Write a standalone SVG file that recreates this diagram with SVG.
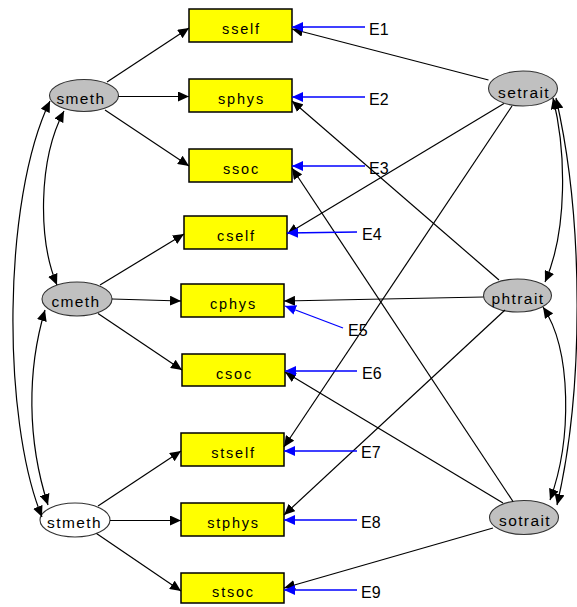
<svg xmlns="http://www.w3.org/2000/svg" width="577" height="607" viewBox="0 0 577 607">
<defs>
<marker id="ah" markerUnits="userSpaceOnUse" markerWidth="12" markerHeight="10" refX="11" refY="5" orient="auto-start-reverse"><path d="M0,0 L11,5 L0,10 z" fill="#000"/></marker>
<marker id="ahb" markerUnits="userSpaceOnUse" markerWidth="12" markerHeight="10" refX="11" refY="5" orient="auto"><path d="M0,0 L11,5 L0,10 z" fill="#0000FF"/></marker>
<style>
.box{fill:#FFFF00;stroke:#000;stroke-width:1.5}
.lat{fill:#C0C0C0;stroke:#333;stroke-width:1.1}
.latw{fill:#FFFFFF;stroke:#333;stroke-width:1.1}
.bl{font-family:"Liberation Sans",Arial,sans-serif;font-size:14.5px;letter-spacing:1.8px;text-anchor:middle;fill:#000}
.ll{font-family:"Liberation Sans",Arial,sans-serif;font-size:15.5px;letter-spacing:1.4px;text-anchor:middle;fill:#000}
.el{font-family:"Liberation Sans",Arial,sans-serif;font-size:16px;fill:#000}
.c{fill:none;stroke:#000;stroke-width:1.2;marker-end:url(#ah)}
.d{fill:none;stroke:#000;stroke-width:1.2;marker-start:url(#ah);marker-end:url(#ah)}
.e{fill:none;stroke:#0000FF;stroke-width:1.3;marker-end:url(#ahb)}
</style>
</defs>
<g id="sself"><rect class="box" x="189" y="9" width="103" height="33"/><text class="bl" x="241.5" y="34">sself</text></g>
<g id="sphys"><rect class="box" x="189" y="79" width="103" height="33"/><text class="bl" x="241.5" y="104">sphys</text></g>
<g id="ssoc"><rect class="box" x="189" y="149" width="103" height="33"/><text class="bl" x="241.5" y="174">ssoc</text></g>
<g id="cself"><rect class="box" x="184" y="216" width="103" height="33"/><text class="bl" x="236.5" y="241">cself</text></g>
<g id="cphys"><rect class="box" x="181" y="284" width="103" height="33"/><text class="bl" x="233.5" y="309">cphys</text></g>
<g id="csoc"><rect class="box" x="182" y="354" width="103" height="32"/><text class="bl" x="234.5" y="379">csoc</text></g>
<g id="stself"><rect class="box" x="181" y="433" width="103" height="33"/><text class="bl" x="233.5" y="458">stself</text></g>
<g id="stphys"><rect class="box" x="181" y="503" width="103" height="33"/><text class="bl" x="233.5" y="528">stphys</text></g>
<g id="stsoc"><rect class="box" x="181" y="573" width="103" height="30"/><text class="bl" x="233.5" y="597">stsoc</text></g>
<g id="smeth"><ellipse class="lat" cx="84" cy="95.5" rx="34.5" ry="16"/><text class="ll" x="81" y="104">smeth</text></g>
<g id="cmeth"><ellipse class="lat" cx="77" cy="299" rx="35" ry="17"/><text class="ll" x="76" y="307">cmeth</text></g>
<g id="stmeth"><ellipse class="latw" cx="75" cy="520" rx="35" ry="17"/><text class="ll" x="74.5" y="528">stmeth</text></g>
<g id="setrait"><ellipse class="lat" cx="523" cy="88.5" rx="34.5" ry="17.5"/><text class="ll" x="524" y="97.5">setrait</text></g>
<g id="phtrait"><ellipse class="lat" cx="517.5" cy="295.5" rx="34" ry="16.5"/><text class="ll" x="518" y="304">phtrait</text></g>
<g id="sotrait"><ellipse class="lat" cx="524" cy="517.5" rx="34.5" ry="17"/><text class="ll" x="525" y="526">sotrait</text></g>
<g id="E1"><text class="el" x="369" y="35">E1</text></g>
<g id="E2"><text class="el" x="369" y="105">E2</text></g>
<g id="E3"><text class="el" x="369" y="174">E3</text></g>
<g id="E4"><text class="el" x="362" y="240">E4</text></g>
<g id="E5"><text class="el" x="348" y="336">E5</text></g>
<g id="E6"><text class="el" x="362" y="379">E6</text></g>
<g id="E7"><text class="el" x="361" y="458">E7</text></g>
<g id="E8"><text class="el" x="361" y="528">E8</text></g>
<g id="E9"><text class="el" x="361" y="598">E9</text></g>
<g id="connectors">
<path class="c" d="M107,82 L189,28"/>
<path class="c" d="M118.5,96.5 L189,96.5"/>
<path class="c" d="M105,110 L189,166"/>
<path class="c" d="M100,285 L184,234"/>
<path class="c" d="M112,299 L181,301"/>
<path class="c" d="M98,313.5 L182,370"/>
<path class="c" d="M98,506 L181,451"/>
<path class="c" d="M110,520.5 L181,520.5"/>
<path class="c" d="M96.5,533.5 L181,591"/>
<path class="c" d="M488.5,80 L292,29"/>
<path class="c" d="M504,103.5 L287,234"/>
<path class="c" d="M512,106 L284,447"/>
<path class="c" d="M499,280 L292,101"/>
<path class="c" d="M483.5,297 L284,301"/>
<path class="c" d="M505,310 L284,515"/>
<path class="c" d="M513,501.5 L292,168"/>
<path class="c" d="M503,503 L285,372"/>
<path class="c" d="M493,528 L284,588"/>
<path class="d" d="M50,101 C2,200 2,420 42,517"/>
<path class="d" d="M64,111 C38,160 38,240 57,285"/>
<path class="d" d="M45,310 C27,370 27,440 48,505"/>
<path class="d" d="M553,98 C566,150 568,230 545,282"/>
<path class="d" d="M556,98 C584,220 584,390 557,505"/>
<path class="d" d="M543,307 C572,350 572,440 550,500"/>
<path class="e" d="M365,27 L292,27"/>
<path class="e" d="M365,97 L292,97"/>
<path class="e" d="M365,166 L292,166"/>
<path class="e" d="M357,232 L287,233"/>
<path class="e" d="M343,328 L285,306"/>
<path class="e" d="M357,371 L285,371"/>
<path class="e" d="M357,451 L284,451"/>
<path class="e" d="M357,520 L284,520"/>
<path class="e" d="M357,590 L284,590"/>
</g>
</svg>
